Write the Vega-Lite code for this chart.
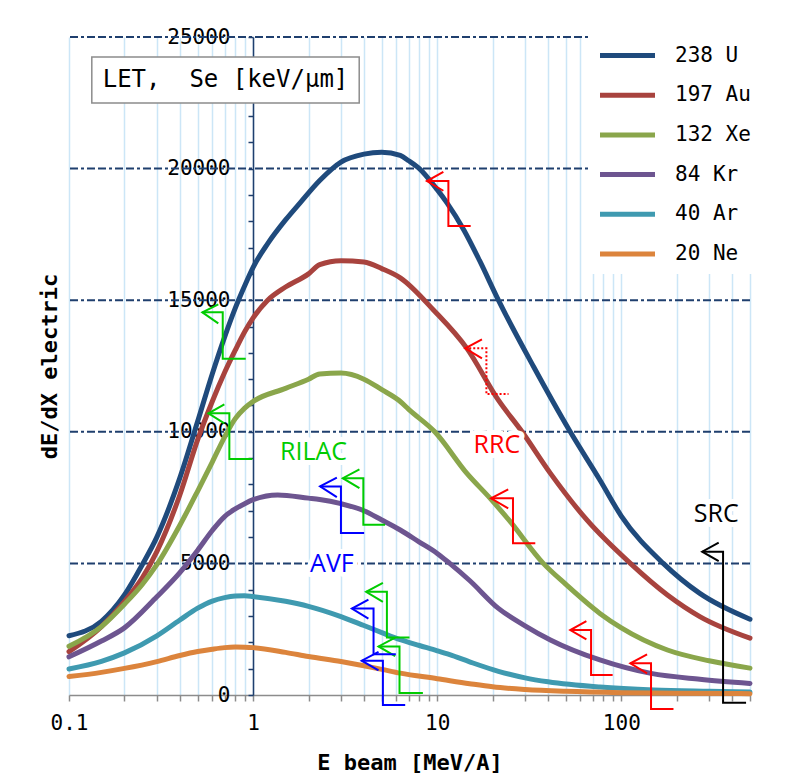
{
  "$schema": "https://vega.github.io/schema/vega-lite/v6.json",
  "width": 681,
  "height": 658,
  "autosize": {"type": "none"},
  "padding": {"left": 69, "top": 37, "right": 53, "bottom": 85},
  "background": "white",
  "config": {
    "view": {"stroke": null},
    "font": "DejaVu Sans Mono",
    "axis": {"labelFont": "DejaVu Sans Mono", "labelFontSize": 21, "labelColor": "black", "titleFont": "DejaVu Sans Mono", "titleFontSize": 22, "titleFontWeight": "bold", "titleColor": "black"},
    "axisX": {"gridColor": "#CCE6F7", "gridWidth": 1.5, "domainColor": "#8C8C8C", "domainWidth": 1.5, "tickColor": "#8C8C8C", "tickSize": 6, "tickWidth": 1.5, "labelPadding": 11, "titleY": 67, "titleBaseline": "middle"},
    "axisY": {"domainColor": "#1F3F6E", "domainWidth": 1.5, "tickColor": "#1F3F6E", "tickSize": 5, "tickWidth": 1.5, "labelPadding": 18, "titleX": -204, "titleY": 329, "titleAngle": 270, "titleBaseline": "middle", "titleAlign": "center"}
  },
  "datasets": {
    "grid": [{"v": 5000}, {"v": 10000}, {"v": 15000}, {"v": 20000}, {"v": 25000}],
    "curves": [
      {"ion": "238 U", "E": 0.1, "v": 2250}, {"ion": "238 U", "E": 0.15, "v": 2800}, {"ion": "238 U", "E": 0.2, "v": 3800}, {"ion": "238 U", "E": 0.25, "v": 4950}, {"ion": "238 U", "E": 0.3, "v": 6000}, {"ion": "238 U", "E": 0.4, "v": 8250}, {"ion": "238 U", "E": 0.5, "v": 10400}, {"ion": "238 U", "E": 0.6, "v": 12200}, {"ion": "238 U", "E": 0.7, "v": 13600}, {"ion": "238 U", "E": 0.8, "v": 14700}, {"ion": "238 U", "E": 0.9, "v": 15550}, {"ion": "238 U", "E": 1, "v": 16250}, {"ion": "238 U", "E": 1.2, "v": 17150}, {"ion": "238 U", "E": 1.5, "v": 18050}, {"ion": "238 U", "E": 1.8, "v": 18700}, {"ion": "238 U", "E": 2.3, "v": 19550}, {"ion": "238 U", "E": 3, "v": 20250}, {"ion": "238 U", "E": 4, "v": 20550}, {"ion": "238 U", "E": 5, "v": 20620}, {"ion": "238 U", "E": 6.3, "v": 20500}, {"ion": "238 U", "E": 7, "v": 20300}, {"ion": "238 U", "E": 8, "v": 20000}, {"ion": "238 U", "E": 10, "v": 19200}, {"ion": "238 U", "E": 11.3, "v": 18700}, {"ion": "238 U", "E": 14, "v": 17650}, {"ion": "238 U", "E": 17, "v": 16500}, {"ion": "238 U", "E": 21.5, "v": 15000}, {"ion": "238 U", "E": 33.4, "v": 12470}, {"ion": "238 U", "E": 52.8, "v": 10000}, {"ion": "238 U", "E": 76.5, "v": 8170}, {"ion": "238 U", "E": 100, "v": 6800}, {"ion": "238 U", "E": 169, "v": 5000}, {"ion": "238 U", "E": 267, "v": 3860}, {"ion": "238 U", "E": 500, "v": 2880},
      {"ion": "197 Au", "E": 0.1, "v": 1650}, {"ion": "197 Au", "E": 0.15, "v": 2600}, {"ion": "197 Au", "E": 0.2, "v": 3550}, {"ion": "197 Au", "E": 0.25, "v": 4450}, {"ion": "197 Au", "E": 0.3, "v": 5450}, {"ion": "197 Au", "E": 0.4, "v": 7600}, {"ion": "197 Au", "E": 0.5, "v": 9700}, {"ion": "197 Au", "E": 0.6, "v": 11150}, {"ion": "197 Au", "E": 0.7, "v": 12250}, {"ion": "197 Au", "E": 0.8, "v": 13100}, {"ion": "197 Au", "E": 0.9, "v": 13800}, {"ion": "197 Au", "E": 1, "v": 14330}, {"ion": "197 Au", "E": 1.2, "v": 15000}, {"ion": "197 Au", "E": 1.5, "v": 15500}, {"ion": "197 Au", "E": 2, "v": 16000}, {"ion": "197 Au", "E": 2.3, "v": 16350}, {"ion": "197 Au", "E": 3, "v": 16500}, {"ion": "197 Au", "E": 4, "v": 16450}, {"ion": "197 Au", "E": 5, "v": 16200}, {"ion": "197 Au", "E": 6.3, "v": 15850}, {"ion": "197 Au", "E": 9.57, "v": 14620}, {"ion": "197 Au", "E": 14.5, "v": 13170}, {"ion": "197 Au", "E": 21.5, "v": 11200}, {"ion": "197 Au", "E": 28.9, "v": 10000}, {"ion": "197 Au", "E": 41.2, "v": 8420}, {"ion": "197 Au", "E": 65, "v": 6650}, {"ion": "197 Au", "E": 112, "v": 5000}, {"ion": "197 Au", "E": 178, "v": 3800}, {"ion": "197 Au", "E": 267, "v": 2980}, {"ion": "197 Au", "E": 500, "v": 2160},
      {"ion": "132 Xe", "E": 0.1, "v": 1850}, {"ion": "132 Xe", "E": 0.15, "v": 2600}, {"ion": "132 Xe", "E": 0.2, "v": 3450}, {"ion": "132 Xe", "E": 0.25, "v": 4200}, {"ion": "132 Xe", "E": 0.3, "v": 4950}, {"ion": "132 Xe", "E": 0.4, "v": 6450}, {"ion": "132 Xe", "E": 0.5, "v": 7750}, {"ion": "132 Xe", "E": 0.6, "v": 8850}, {"ion": "132 Xe", "E": 0.7, "v": 9800}, {"ion": "132 Xe", "E": 0.8, "v": 10500}, {"ion": "132 Xe", "E": 0.9, "v": 10900}, {"ion": "132 Xe", "E": 1, "v": 11150}, {"ion": "132 Xe", "E": 1.5, "v": 11650}, {"ion": "132 Xe", "E": 2, "v": 12000}, {"ion": "132 Xe", "E": 2.3, "v": 12200}, {"ion": "132 Xe", "E": 3, "v": 12230}, {"ion": "132 Xe", "E": 4, "v": 12000}, {"ion": "132 Xe", "E": 5, "v": 11600}, {"ion": "132 Xe", "E": 6.3, "v": 11150}, {"ion": "132 Xe", "E": 7, "v": 10850}, {"ion": "132 Xe", "E": 9.7, "v": 10000}, {"ion": "132 Xe", "E": 14.5, "v": 8420}, {"ion": "132 Xe", "E": 19.4, "v": 7470}, {"ion": "132 Xe", "E": 24.5, "v": 6650}, {"ion": "132 Xe", "E": 37.7, "v": 5000}, {"ion": "132 Xe", "E": 50, "v": 4200}, {"ion": "132 Xe", "E": 76.5, "v": 3100}, {"ion": "132 Xe", "E": 100, "v": 2550}, {"ion": "132 Xe", "E": 178, "v": 1710}, {"ion": "132 Xe", "E": 300, "v": 1300}, {"ion": "132 Xe", "E": 500, "v": 1020},
      {"ion": "84 Kr", "E": 0.1, "v": 1450}, {"ion": "84 Kr", "E": 0.15, "v": 2050}, {"ion": "84 Kr", "E": 0.2, "v": 2550}, {"ion": "84 Kr", "E": 0.3, "v": 3730}, {"ion": "84 Kr", "E": 0.4, "v": 4650}, {"ion": "84 Kr", "E": 0.5, "v": 5500}, {"ion": "84 Kr", "E": 0.6, "v": 6250}, {"ion": "84 Kr", "E": 0.7, "v": 6780}, {"ion": "84 Kr", "E": 0.8, "v": 7070}, {"ion": "84 Kr", "E": 0.9, "v": 7270}, {"ion": "84 Kr", "E": 1, "v": 7420}, {"ion": "84 Kr", "E": 1.36, "v": 7600}, {"ion": "84 Kr", "E": 2, "v": 7480}, {"ion": "84 Kr", "E": 2.3, "v": 7430}, {"ion": "84 Kr", "E": 3, "v": 7270}, {"ion": "84 Kr", "E": 4, "v": 7000}, {"ion": "84 Kr", "E": 5, "v": 6650}, {"ion": "84 Kr", "E": 6.3, "v": 6270}, {"ion": "84 Kr", "E": 8, "v": 5810}, {"ion": "84 Kr", "E": 10, "v": 5380}, {"ion": "84 Kr", "E": 11.7, "v": 5000}, {"ion": "84 Kr", "E": 15, "v": 4350}, {"ion": "84 Kr", "E": 21.5, "v": 3290}, {"ion": "84 Kr", "E": 30, "v": 2630}, {"ion": "84 Kr", "E": 41.2, "v": 2090}, {"ion": "84 Kr", "E": 76.5, "v": 1330}, {"ion": "84 Kr", "E": 145, "v": 820}, {"ion": "84 Kr", "E": 267, "v": 600}, {"ion": "84 Kr", "E": 500, "v": 440},
      {"ion": "40 Ar", "E": 0.1, "v": 990}, {"ion": "40 Ar", "E": 0.15, "v": 1280}, {"ion": "40 Ar", "E": 0.2, "v": 1600}, {"ion": "40 Ar", "E": 0.3, "v": 2250}, {"ion": "40 Ar", "E": 0.4, "v": 2850}, {"ion": "40 Ar", "E": 0.5, "v": 3300}, {"ion": "40 Ar", "E": 0.6, "v": 3570}, {"ion": "40 Ar", "E": 0.7, "v": 3700}, {"ion": "40 Ar", "E": 0.8, "v": 3760}, {"ion": "40 Ar", "E": 0.9, "v": 3770}, {"ion": "40 Ar", "E": 1, "v": 3740}, {"ion": "40 Ar", "E": 1.5, "v": 3560}, {"ion": "40 Ar", "E": 2, "v": 3370}, {"ion": "40 Ar", "E": 3, "v": 2980}, {"ion": "40 Ar", "E": 4, "v": 2640}, {"ion": "40 Ar", "E": 5, "v": 2370}, {"ion": "40 Ar", "E": 6.3, "v": 2100}, {"ion": "40 Ar", "E": 8, "v": 1880}, {"ion": "40 Ar", "E": 10, "v": 1680}, {"ion": "40 Ar", "E": 11.7, "v": 1530}, {"ion": "40 Ar", "E": 15, "v": 1260}, {"ion": "40 Ar", "E": 21.5, "v": 900}, {"ion": "40 Ar", "E": 30, "v": 650}, {"ion": "40 Ar", "E": 40, "v": 500}, {"ion": "40 Ar", "E": 76.5, "v": 300}, {"ion": "40 Ar", "E": 150, "v": 190}, {"ion": "40 Ar", "E": 300, "v": 140}, {"ion": "40 Ar", "E": 500, "v": 110},
      {"ion": "20 Ne", "E": 0.1, "v": 700}, {"ion": "20 Ne", "E": 0.15, "v": 860}, {"ion": "20 Ne", "E": 0.2, "v": 1010}, {"ion": "20 Ne", "E": 0.3, "v": 1270}, {"ion": "20 Ne", "E": 0.4, "v": 1500}, {"ion": "20 Ne", "E": 0.5, "v": 1650}, {"ion": "20 Ne", "E": 0.6, "v": 1740}, {"ion": "20 Ne", "E": 0.7, "v": 1800}, {"ion": "20 Ne", "E": 0.8, "v": 1820}, {"ion": "20 Ne", "E": 0.9, "v": 1815}, {"ion": "20 Ne", "E": 1, "v": 1800}, {"ion": "20 Ne", "E": 1.5, "v": 1620}, {"ion": "20 Ne", "E": 2, "v": 1460}, {"ion": "20 Ne", "E": 3, "v": 1270}, {"ion": "20 Ne", "E": 4, "v": 1110}, {"ion": "20 Ne", "E": 5, "v": 975}, {"ion": "20 Ne", "E": 6.3, "v": 830}, {"ion": "20 Ne", "E": 10, "v": 620}, {"ion": "20 Ne", "E": 15, "v": 430}, {"ion": "20 Ne", "E": 20, "v": 310}, {"ion": "20 Ne", "E": 30, "v": 210}, {"ion": "20 Ne", "E": 50, "v": 140}, {"ion": "20 Ne", "E": 100, "v": 90}, {"ion": "20 Ne", "E": 200, "v": 70}, {"ion": "20 Ne", "E": 500, "v": 50}
    ],
    "ann": [
      {"id": "r1h", "grp": "RRC", "o": 1, "E": 10.8, "v": 19880}, {"id": "r1h", "grp": "RRC", "o": 2, "E": 8.79, "v": 19527}, {"id": "r1h", "grp": "RRC", "o": 3, "E": 10.8, "v": 19158},
      {"id": "r1s", "grp": "RRC", "o": 1, "E": 8.79, "v": 19527}, {"id": "r1s", "grp": "RRC", "o": 2, "E": 11.5, "v": 19527}, {"id": "r1s", "grp": "RRC", "o": 3, "E": 11.5, "v": 17817}, {"id": "r1s", "grp": "RRC", "o": 4, "E": 15.2, "v": 17817},
      {"id": "r2h", "grp": "RRC", "o": 1, "E": 17.5, "v": 13513}, {"id": "r2h", "grp": "RRC", "o": 2, "E": 14.2, "v": 13171}, {"id": "r2h", "grp": "RRC", "o": 3, "E": 17.5, "v": 12791},
      {"id": "r2s", "grp": "RRC", "planned": true, "o": 1, "E": 14.2, "v": 13171}, {"id": "r2s", "grp": "RRC", "planned": true, "o": 2, "E": 18.5, "v": 13171}, {"id": "r2s", "grp": "RRC", "planned": true, "o": 3, "E": 18.5, "v": 11435}, {"id": "r2s", "grp": "RRC", "planned": true, "o": 4, "E": 24.4, "v": 11435},
      {"id": "r3h", "grp": "RRC", "o": 1, "E": 24.3, "v": 7815}, {"id": "r3h", "grp": "RRC", "o": 2, "E": 19.6, "v": 7473}, {"id": "r3h", "grp": "RRC", "o": 3, "E": 24.3, "v": 7093},
      {"id": "r3s", "grp": "RRC", "o": 1, "E": 19.6, "v": 7473}, {"id": "r3s", "grp": "RRC", "o": 2, "E": 25.8, "v": 7473}, {"id": "r3s", "grp": "RRC", "o": 3, "E": 25.8, "v": 5763}, {"id": "r3s", "grp": "RRC", "o": 4, "E": 34.1, "v": 5763},
      {"id": "r4h", "grp": "RRC", "o": 1, "E": 64.6, "v": 2811}, {"id": "r4h", "grp": "RRC", "o": 2, "E": 52.8, "v": 2469}, {"id": "r4h", "grp": "RRC", "o": 3, "E": 64.6, "v": 2116},
      {"id": "r4s", "grp": "RRC", "o": 1, "E": 52.8, "v": 2469}, {"id": "r4s", "grp": "RRC", "o": 2, "E": 68.5, "v": 2469}, {"id": "r4s", "grp": "RRC", "o": 3, "E": 68.5, "v": 760}, {"id": "r4s", "grp": "RRC", "o": 4, "E": 89.7, "v": 760},
      {"id": "r5h", "grp": "RRC", "o": 1, "E": 138, "v": 1546}, {"id": "r5h", "grp": "RRC", "o": 2, "E": 112, "v": 1203}, {"id": "r5h", "grp": "RRC", "o": 3, "E": 138, "v": 824},
      {"id": "r5s", "grp": "RRC", "o": 1, "E": 112, "v": 1203}, {"id": "r5s", "grp": "RRC", "o": 2, "E": 145, "v": 1203}, {"id": "r5s", "grp": "RRC", "o": 3, "E": 145, "v": -532}, {"id": "r5s", "grp": "RRC", "o": 4, "E": 192, "v": -532},
      {"id": "s1h", "grp": "SRC", "o": 1, "E": 338, "v": 5786}, {"id": "s1h", "grp": "SRC", "o": 2, "E": 275, "v": 5444}, {"id": "s1h", "grp": "SRC", "o": 3, "E": 338, "v": 5091},
      {"id": "s1s", "grp": "SRC", "o": 1, "E": 275, "v": 5444}, {"id": "s1s", "grp": "SRC", "o": 2, "E": 357, "v": 5444}, {"id": "s1s", "grp": "SRC", "o": 3, "E": 357, "v": -293}, {"id": "s1s", "grp": "SRC", "o": 4, "E": 476, "v": -293},
      {"id": "g1h", "grp": "RILAC", "o": 1, "E": 0.647, "v": 14843}, {"id": "g1h", "grp": "RILAC", "o": 2, "E": 0.53, "v": 14539}, {"id": "g1h", "grp": "RILAC", "o": 3, "E": 0.647, "v": 14121},
      {"id": "g1s", "grp": "RILAC", "o": 1, "E": 0.53, "v": 14539}, {"id": "g1s", "grp": "RILAC", "o": 2, "E": 0.684, "v": 14539}, {"id": "g1s", "grp": "RILAC", "o": 3, "E": 0.684, "v": 12776}, {"id": "g1s", "grp": "RILAC", "o": 4, "E": 0.912, "v": 12776},
      {"id": "g2h", "grp": "RILAC", "o": 1, "E": 0.698, "v": 11044}, {"id": "g2h", "grp": "RILAC", "o": 2, "E": 0.572, "v": 10702}, {"id": "g2h", "grp": "RILAC", "o": 3, "E": 0.698, "v": 10322},
      {"id": "g2s", "grp": "RILAC", "o": 1, "E": 0.572, "v": 10702}, {"id": "g2s", "grp": "RILAC", "o": 2, "E": 0.743, "v": 10702}, {"id": "g2s", "grp": "RILAC", "o": 3, "E": 0.743, "v": 8966}, {"id": "g2s", "grp": "RILAC", "o": 4, "E": 0.991, "v": 8966},
      {"id": "g3h", "grp": "RILAC", "o": 1, "E": 3.78, "v": 8574}, {"id": "g3h", "grp": "RILAC", "o": 2, "E": 3.07, "v": 8236}, {"id": "g3h", "grp": "RILAC", "o": 3, "E": 3.78, "v": 7856},
      {"id": "g3s", "grp": "RILAC", "o": 1, "E": 3.07, "v": 8236}, {"id": "g3s", "grp": "RILAC", "o": 2, "E": 3.97, "v": 8236}, {"id": "g3s", "grp": "RILAC", "o": 3, "E": 3.97, "v": 6473}, {"id": "g3s", "grp": "RILAC", "o": 4, "E": 5.21, "v": 6473},
      {"id": "g4h", "grp": "RILAC", "o": 1, "E": 5.07, "v": 4259}, {"id": "g4h", "grp": "RILAC", "o": 2, "E": 4.11, "v": 3921}, {"id": "g4h", "grp": "RILAC", "o": 3, "E": 5.07, "v": 3541},
      {"id": "g4s", "grp": "RILAC", "o": 1, "E": 4.11, "v": 3921}, {"id": "g4s", "grp": "RILAC", "o": 2, "E": 5.33, "v": 3921}, {"id": "g4s", "grp": "RILAC", "o": 3, "E": 5.33, "v": 2184}, {"id": "g4s", "grp": "RILAC", "o": 4, "E": 7.07, "v": 2184},
      {"id": "g5h", "grp": "RILAC", "o": 1, "E": 5.91, "v": 2184}, {"id": "g5h", "grp": "RILAC", "o": 2, "E": 4.8, "v": 1846}, {"id": "g5h", "grp": "RILAC", "o": 3, "E": 5.91, "v": 1478},
      {"id": "g5s", "grp": "RILAC", "o": 1, "E": 4.8, "v": 1846}, {"id": "g5s", "grp": "RILAC", "o": 2, "E": 6.24, "v": 1846}, {"id": "g5s", "grp": "RILAC", "o": 3, "E": 6.24, "v": 80}, {"id": "g5s", "grp": "RILAC", "o": 4, "E": 8.36, "v": 80},
      {"id": "b1h", "grp": "AVF", "o": 1, "E": 2.85, "v": 8263}, {"id": "b1h", "grp": "AVF", "o": 2, "E": 2.31, "v": 7925}, {"id": "b1h", "grp": "AVF", "o": 3, "E": 2.85, "v": 7518},
      {"id": "b1s", "grp": "AVF", "o": 1, "E": 2.31, "v": 7925}, {"id": "b1s", "grp": "AVF", "o": 2, "E": 3.0, "v": 7925}, {"id": "b1s", "grp": "AVF", "o": 3, "E": 3.0, "v": 6158}, {"id": "b1s", "grp": "AVF", "o": 4, "E": 4.01, "v": 6158},
      {"id": "b2h", "grp": "AVF", "o": 1, "E": 4.23, "v": 3624}, {"id": "b2h", "grp": "AVF", "o": 2, "E": 3.44, "v": 3282}, {"id": "b2h", "grp": "AVF", "o": 3, "E": 4.23, "v": 2902},
      {"id": "b2s", "grp": "AVF", "o": 1, "E": 3.44, "v": 3282}, {"id": "b2s", "grp": "AVF", "o": 2, "E": 4.51, "v": 3282}, {"id": "b2s", "grp": "AVF", "o": 3, "E": 4.51, "v": 1546}, {"id": "b2s", "grp": "AVF", "o": 4, "E": 5.96, "v": 1546},
      {"id": "b3h", "grp": "AVF", "o": 1, "E": 4.8, "v": 1641}, {"id": "b3h", "grp": "AVF", "o": 2, "E": 3.89, "v": 1303}, {"id": "b3h", "grp": "AVF", "o": 3, "E": 4.8, "v": 935},
      {"id": "b3s", "grp": "AVF", "o": 1, "E": 3.89, "v": 1303}, {"id": "b3s", "grp": "AVF", "o": 2, "E": 5.07, "v": 1303}, {"id": "b3s", "grp": "AVF", "o": 3, "E": 5.07, "v": -380}, {"id": "b3s", "grp": "AVF", "o": 4, "E": 6.7, "v": -380}
    ],
    "labels": [
      {"grp": "RRC", "E": 21.1, "v": 9498},
      {"grp": "RILAC", "E": 2.13, "v": 9243},
      {"grp": "AVF", "E": 2.68, "v": 4977},
      {"grp": "SRC", "E": 328, "v": 6876}
    ],
    "box": [
      {"E": 0.133, "E2": 3.77, "v": 22490, "v2": 24238}
    ],
    "boxtext": [
      {"t": "LET,\u00a0\u00a0Se\u00a0[keV/μm]", "E": 0.708, "v": 23364}
    ]
  },
  "layer": [
    {
      "data": {"name": "grid"},
      "mark": {"type": "rule", "stroke": "#1F3F6E", "strokeWidth": 2, "strokeDash": [8, 3, 8, 3, 3, 3]},
      "encoding": {
        "y": {"field": "v", "type": "quantitative", "scale": {"domain": [0, 25000], "nice": false},
          "axis": {"orient": "left", "offset": -184, "values": [0, 1000, 2000, 3000, 4000, 5000, 6000, 7000, 8000, 9000, 10000, 11000, 12000, 13000, 14000, 15000, 16000, 17000, 18000, 19000, 20000, 21000, 22000, 23000, 24000, 25000], "grid": false, "labelOverlap": false, "format": "d", "labelExpr": "datum.value % 5000 === 0 ? datum.label : ''", "title": "dE/dX electric"}}
      }
    },
    {
      "data": {"name": "curves"},
      "mark": {"type": "line", "strokeWidth": 5, "strokeCap": "round", "strokeJoin": "round", "interpolate": "monotone"},
      "encoding": {
        "x": {"field": "E", "type": "quantitative", "scale": {"type": "log", "domain": [0.1, 500], "nice": false},
          "axis": {"values": [0.1, 0.2, 0.3, 0.4, 0.5, 0.6, 0.7, 0.8, 0.9, 1, 2, 3, 4, 5, 6, 7, 8, 9, 10, 20, 30, 40, 50, 60, 70, 80, 90, 100, 200, 300, 400, 500], "grid": true, "labelFlush": false, "labelOverlap": false, "labelExpr": "datum.value == 0.1 ? '0.1' : datum.value == 1 ? '1' : datum.value == 10 ? '10' : datum.value == 100 ? '100' : ''", "title": "E beam [MeV/A]"}},
        "y": {"field": "v", "type": "quantitative", "scale": {"domain": [0, 25000], "nice": false},
          "axis": {"orient": "left", "offset": -184, "values": [0, 1000, 2000, 3000, 4000, 5000, 6000, 7000, 8000, 9000, 10000, 11000, 12000, 13000, 14000, 15000, 16000, 17000, 18000, 19000, 20000, 21000, 22000, 23000, 24000, 25000], "grid": false, "labelOverlap": false, "format": "d", "labelExpr": "datum.value % 5000 === 0 ? datum.label : ''", "title": "dE/dX electric"}},
        "color": {
          "field": "ion", "type": "nominal",
          "scale": {
            "domain": ["238 U", "197 Au", "132 Xe", "84 Kr", "40 Ar", "20 Ne"],
            "range": ["#1F4A7C", "#A8433E", "#8AA64B", "#6D5590", "#3F9AB0", "#DC843C"]
          },
          "legend": {
            "orient": "none", "legendX": 521, "legendY": -2,
            "title": null, "fillColor": "white", "padding": 10,
            "symbolType": "M-5,0H5", "symbolSize": 121, "symbolStrokeWidth": 5,
            "symbolOffset": 17, "labelOffset": 37,
            "labelFont": "DejaVu Sans Mono", "labelFontSize": 21, "labelColor": "black",
            "rowPadding": 17.7, "labelLimit": 300, "direction": "vertical"
          }
        }
      }
    },
    {
      "data": {"name": "ann"},
      "transform": [{"filter": "!datum.planned"}],
      "mark": {"type": "line", "strokeWidth": 2, "clip": false},
      "encoding": {
        "x": {"field": "E", "type": "quantitative", "scale": {"type": "log", "domain": [0.1, 500], "nice": false},
          "axis": {"values": [0.1, 0.2, 0.3, 0.4, 0.5, 0.6, 0.7, 0.8, 0.9, 1, 2, 3, 4, 5, 6, 7, 8, 9, 10, 20, 30, 40, 50, 60, 70, 80, 90, 100, 200, 300, 400, 500], "grid": true, "labelFlush": false, "labelOverlap": false, "labelExpr": "datum.value == 0.1 ? '0.1' : datum.value == 1 ? '1' : datum.value == 10 ? '10' : datum.value == 100 ? '100' : ''", "title": "E beam [MeV/A]"}},
        "y": {"field": "v", "type": "quantitative", "scale": {"domain": [0, 25000], "nice": false},
          "axis": {"orient": "left", "offset": -184, "values": [0, 1000, 2000, 3000, 4000, 5000, 6000, 7000, 8000, 9000, 10000, 11000, 12000, 13000, 14000, 15000, 16000, 17000, 18000, 19000, 20000, 21000, 22000, 23000, 24000, 25000], "grid": false, "labelOverlap": false, "format": "d", "labelExpr": "datum.value % 5000 === 0 ? datum.label : ''", "title": "dE/dX electric"}},
        "detail": {"field": "id", "type": "nominal"},
        "order": {"field": "o", "type": "quantitative"},
        "color": {"field": "grp", "type": "nominal", "scale": {"domain": ["RRC", "RILAC", "AVF", "SRC"], "range": ["#FF0000", "#00CC00", "#0000FF", "#000000"]}, "legend": null}
      }
    },
    {
      "data": {"name": "ann"},
      "transform": [{"filter": "datum.planned"}],
      "mark": {"type": "line", "strokeWidth": 2, "strokeDash": [2, 2], "clip": false},
      "encoding": {
        "x": {"field": "E", "type": "quantitative", "scale": {"type": "log", "domain": [0.1, 500], "nice": false},
          "axis": {"values": [0.1, 0.2, 0.3, 0.4, 0.5, 0.6, 0.7, 0.8, 0.9, 1, 2, 3, 4, 5, 6, 7, 8, 9, 10, 20, 30, 40, 50, 60, 70, 80, 90, 100, 200, 300, 400, 500], "grid": true, "labelFlush": false, "labelOverlap": false, "labelExpr": "datum.value == 0.1 ? '0.1' : datum.value == 1 ? '1' : datum.value == 10 ? '10' : datum.value == 100 ? '100' : ''", "title": "E beam [MeV/A]"}},
        "y": {"field": "v", "type": "quantitative", "scale": {"domain": [0, 25000], "nice": false},
          "axis": {"orient": "left", "offset": -184, "values": [0, 1000, 2000, 3000, 4000, 5000, 6000, 7000, 8000, 9000, 10000, 11000, 12000, 13000, 14000, 15000, 16000, 17000, 18000, 19000, 20000, 21000, 22000, 23000, 24000, 25000], "grid": false, "labelOverlap": false, "format": "d", "labelExpr": "datum.value % 5000 === 0 ? datum.label : ''", "title": "dE/dX electric"}},
        "detail": {"field": "id", "type": "nominal"},
        "order": {"field": "o", "type": "quantitative"},
        "color": {"field": "grp", "type": "nominal", "scale": {"domain": ["RRC", "RILAC", "AVF", "SRC"], "range": ["#FF0000", "#00CC00", "#0000FF", "#000000"]}, "legend": null}
      }
    },
    {
      "data": {"name": "labels"},
      "mark": {"type": "text", "font": "Open Sans", "fontSize": 25, "fill": "white", "stroke": "white", "strokeWidth": 10, "strokeJoin": "round", "align": "center", "baseline": "middle"},
      "encoding": {
        "x": {"field": "E", "type": "quantitative", "scale": {"type": "log", "domain": [0.1, 500], "nice": false},
          "axis": {"values": [0.1, 0.2, 0.3, 0.4, 0.5, 0.6, 0.7, 0.8, 0.9, 1, 2, 3, 4, 5, 6, 7, 8, 9, 10, 20, 30, 40, 50, 60, 70, 80, 90, 100, 200, 300, 400, 500], "grid": true, "labelFlush": false, "labelOverlap": false, "labelExpr": "datum.value == 0.1 ? '0.1' : datum.value == 1 ? '1' : datum.value == 10 ? '10' : datum.value == 100 ? '100' : ''", "title": "E beam [MeV/A]"}},
        "y": {"field": "v", "type": "quantitative", "scale": {"domain": [0, 25000], "nice": false},
          "axis": {"orient": "left", "offset": -184, "values": [0, 1000, 2000, 3000, 4000, 5000, 6000, 7000, 8000, 9000, 10000, 11000, 12000, 13000, 14000, 15000, 16000, 17000, 18000, 19000, 20000, 21000, 22000, 23000, 24000, 25000], "grid": false, "labelOverlap": false, "format": "d", "labelExpr": "datum.value % 5000 === 0 ? datum.label : ''", "title": "dE/dX electric"}},
        "text": {"field": "grp", "type": "nominal"}
      }
    },
    {
      "data": {"name": "labels"},
      "mark": {"type": "text", "font": "Open Sans", "fontSize": 25, "align": "center", "baseline": "middle"},
      "encoding": {
        "x": {"field": "E", "type": "quantitative", "scale": {"type": "log", "domain": [0.1, 500], "nice": false},
          "axis": {"values": [0.1, 0.2, 0.3, 0.4, 0.5, 0.6, 0.7, 0.8, 0.9, 1, 2, 3, 4, 5, 6, 7, 8, 9, 10, 20, 30, 40, 50, 60, 70, 80, 90, 100, 200, 300, 400, 500], "grid": true, "labelFlush": false, "labelOverlap": false, "labelExpr": "datum.value == 0.1 ? '0.1' : datum.value == 1 ? '1' : datum.value == 10 ? '10' : datum.value == 100 ? '100' : ''", "title": "E beam [MeV/A]"}},
        "y": {"field": "v", "type": "quantitative", "scale": {"domain": [0, 25000], "nice": false},
          "axis": {"orient": "left", "offset": -184, "values": [0, 1000, 2000, 3000, 4000, 5000, 6000, 7000, 8000, 9000, 10000, 11000, 12000, 13000, 14000, 15000, 16000, 17000, 18000, 19000, 20000, 21000, 22000, 23000, 24000, 25000], "grid": false, "labelOverlap": false, "format": "d", "labelExpr": "datum.value % 5000 === 0 ? datum.label : ''", "title": "dE/dX electric"}},
        "text": {"field": "grp", "type": "nominal"},
        "color": {"field": "grp", "type": "nominal", "scale": {"domain": ["RRC", "RILAC", "AVF", "SRC"], "range": ["#FF0000", "#00CC00", "#0000FF", "#000000"]}, "legend": null}
      }
    },
    {
      "data": {"name": "box"},
      "mark": {"type": "rect", "fill": "white", "stroke": "#8C8C8C", "strokeWidth": 1.5},
      "encoding": {
        "x": {"field": "E", "type": "quantitative", "scale": {"type": "log", "domain": [0.1, 500], "nice": false},
          "axis": {"values": [0.1, 0.2, 0.3, 0.4, 0.5, 0.6, 0.7, 0.8, 0.9, 1, 2, 3, 4, 5, 6, 7, 8, 9, 10, 20, 30, 40, 50, 60, 70, 80, 90, 100, 200, 300, 400, 500], "grid": true, "labelFlush": false, "labelOverlap": false, "labelExpr": "datum.value == 0.1 ? '0.1' : datum.value == 1 ? '1' : datum.value == 10 ? '10' : datum.value == 100 ? '100' : ''", "title": "E beam [MeV/A]"}},
        "x2": {"field": "E2"},
        "y": {"field": "v", "type": "quantitative", "scale": {"domain": [0, 25000], "nice": false},
          "axis": {"orient": "left", "offset": -184, "values": [0, 1000, 2000, 3000, 4000, 5000, 6000, 7000, 8000, 9000, 10000, 11000, 12000, 13000, 14000, 15000, 16000, 17000, 18000, 19000, 20000, 21000, 22000, 23000, 24000, 25000], "grid": false, "labelOverlap": false, "format": "d", "labelExpr": "datum.value % 5000 === 0 ? datum.label : ''", "title": "dE/dX electric"}},
        "y2": {"field": "v2"}
      }
    },
    {
      "data": {"name": "boxtext"},
      "mark": {"type": "text", "font": "DejaVu Sans Mono", "fontSize": 24, "color": "black", "align": "center", "baseline": "middle"},
      "encoding": {
        "x": {"field": "E", "type": "quantitative", "scale": {"type": "log", "domain": [0.1, 500], "nice": false},
          "axis": {"values": [0.1, 0.2, 0.3, 0.4, 0.5, 0.6, 0.7, 0.8, 0.9, 1, 2, 3, 4, 5, 6, 7, 8, 9, 10, 20, 30, 40, 50, 60, 70, 80, 90, 100, 200, 300, 400, 500], "grid": true, "labelFlush": false, "labelOverlap": false, "labelExpr": "datum.value == 0.1 ? '0.1' : datum.value == 1 ? '1' : datum.value == 10 ? '10' : datum.value == 100 ? '100' : ''", "title": "E beam [MeV/A]"}},
        "y": {"field": "v", "type": "quantitative", "scale": {"domain": [0, 25000], "nice": false},
          "axis": {"orient": "left", "offset": -184, "values": [0, 1000, 2000, 3000, 4000, 5000, 6000, 7000, 8000, 9000, 10000, 11000, 12000, 13000, 14000, 15000, 16000, 17000, 18000, 19000, 20000, 21000, 22000, 23000, 24000, 25000], "grid": false, "labelOverlap": false, "format": "d", "labelExpr": "datum.value % 5000 === 0 ? datum.label : ''", "title": "dE/dX electric"}},
        "text": {"field": "t", "type": "nominal"}
      }
    }
  ],
  "resolve": {"scale": {"color": "independent"}}
}
